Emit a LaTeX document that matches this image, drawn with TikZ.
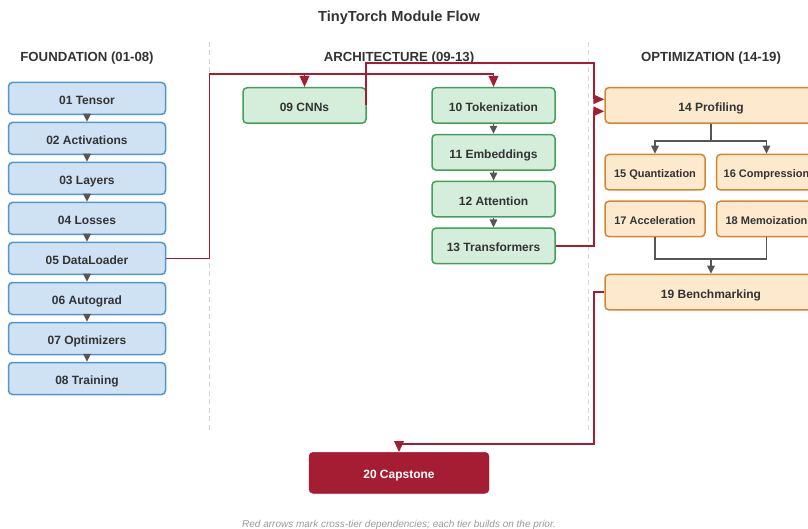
\documentclass[tikz,border=0pt]{standalone}
\usepackage{fontspec}
\setmainfont{Liberation Sans}
\usetikzlibrary{arrows.meta}

\definecolor{ink}{HTML}{333333}
\definecolor{note}{HTML}{9A9A9A}
\definecolor{sepgrey}{HTML}{D6D6D6}
\definecolor{flowgrey}{HTML}{555555}
\definecolor{crossred}{HTML}{A51D33}
\definecolor{fndfill}{HTML}{CFE2F3}
\definecolor{fnddraw}{HTML}{5296CE}
\definecolor{archfill}{HTML}{D5EDDB}
\definecolor{archdraw}{HTML}{43A05A}
\definecolor{optfill}{HTML}{FDE9CD}
\definecolor{optdraw}{HTML}{D6862F}

\tikzset{
  modbox/.style={rounded corners=4pt, line width=1.5pt, text=ink,
    font=\bfseries\fontsize{12}{14}\selectfont, inner sep=0pt, align=center,
    text height=12pt, text depth=0pt},
  fndbox/.style={modbox, fill=fndfill, draw=fnddraw, minimum width=157pt, minimum height=32pt},
  archbox/.style={modbox, fill=archfill, draw=archdraw, minimum width=123pt, minimum height=35.5pt},
  optbox/.style={modbox, fill=optfill, draw=optdraw, minimum height=35.5pt},
  optwide/.style={optbox, minimum width=212pt},
  optsmall/.style={optbox, minimum width=100pt, font=\bfseries\fontsize{11}{13}\selectfont,
    text height=11.4pt},
  capbox/.style={rounded corners=4pt, fill=crossred, draw=crossred, text=white,
    font=\bfseries\fontsize{12}{14}\selectfont, minimum width=180pt, minimum height=41pt,
    inner sep=0pt, text height=12pt, text depth=0pt},
  tierhead/.style={text=ink, font=\bfseries\fontsize{13.2}{15}\selectfont},
  flow/.style={draw=flowgrey, line width=1.4pt, -{Triangle[length=8pt,width=7.5pt]}},
  flowplain/.style={draw=flowgrey, line width=1.4pt},
  cross/.style={draw=crossred, line width=1.8pt, -{Triangle[length=11pt,width=9.5pt]}},
  tiersep/.style={draw=sepgrey, line width=1pt, dash pattern=on 5pt off 3.5pt},
}

\begin{document}
\begin{tikzpicture}[x=1pt, y=-1pt]
\useasboundingbox (0,0) rectangle (808,529);
\clip (0,0) rectangle (808,529);
\fill[white] (0,0) rectangle (808,529);

% tier separators
\draw[tiersep] (209.5,42) -- (209.5,430);
\draw[tiersep] (588.5,42) -- (588.5,430);

% title and tier headings
\node[text=ink, font=\bfseries\fontsize{14.6}{17}\selectfont] (title) at (399,17.8) {TinyTorch Module Flow};
\node[tierhead] (hfnd) at (87,57.8) {FOUNDATION (01-08)};
\node[tierhead] (harch) at (399,57.8) {ARCHITECTURE (09-13)};
\node[tierhead] (hopt) at (711,57.8) {OPTIMIZATION (14-19)};

% foundation tier
\node[fndbox] (n01) at (87,98.5) {01 Tensor};
\node[fndbox] (n02) at (87,138.5) {02 Activations};
\node[fndbox] (n03) at (87,178.5) {03 Layers};
\node[fndbox] (n04) at (87,218.5) {04 Losses};
\node[fndbox] (n05) at (87,258.5) {05 DataLoader};
\node[fndbox] (n06) at (87,298.5) {06 Autograd};
\node[fndbox] (n07) at (87,338.5) {07 Optimizers};
\node[fndbox] (n08) at (87,378.5) {08 Training};
\foreach \a/\b in {01/02,02/03,03/04,04/05,05/06,06/07,07/08}
  \draw[flow] (n\a.south) -- (n\b.north);

% architecture tier
\node[archbox] (n09) at (304.5,105.5) {09 CNNs};
\node[archbox] (n10) at (493.5,105.5) {10 Tokenization};
\node[archbox] (n11) at (493.5,152.3) {11 Embeddings};
\node[archbox] (n12) at (493.5,199.1) {12 Attention};
\node[archbox] (n13) at (493.5,245.9) {13 Transformers};
\foreach \a/\b in {10/11,11/12,12/13}
  \draw[flow] (n\a.south) -- (n\b.north);

% optimization tier
\node[optwide] (n14) at (711,105.3) {14 Profiling};
\node[optsmall] (n15) at (655,172.2) {15 Quantization};
\node[optsmall] (n16) at (766.5,172.2) {16 Compression};
\node[optsmall] (n17) at (655,218.9) {17 Acceleration};
\node[optsmall] (n18) at (766.5,218.9) {18 Memoization};
\node[optwide] (n19) at (711,292.2) {19 Benchmarking};

\coordinate (split) at (711,141);
\draw[flowplain] (n14.south) -- (split);
\draw[flow] (split) -| (n15.north);
\draw[flow] (split) -| (n16.north);
\coordinate (merge) at (711,259);
\draw[flowplain] (n17.south) |- (merge);
\draw[flowplain] (n18.south) |- (merge);
\draw[flow] (merge) -- (n19.north);

% capstone
\node[capbox] (n20) at (399,472.8) {20 Capstone};

% cross-tier dependencies
\coordinate (busA) at (209.5,74);
\coordinate (busB) at (594,63);
\coordinate (busD) at (594,444);
\draw[cross] (n05.east) -| (busA) -| (n10.north);
\draw[cross] (busA) -| (n09.north);
\draw[cross] ([xshift=-0.9pt]n09.east) |- (busB) |- ([yshift=6pt]n14.west);
\draw[cross] (n13.east) -- (n13.east -| busB) |- ([yshift=-6pt]n14.west);
\draw[cross] (n19.west) -| (busD) -| (n20.north);

% footnote
\node[text=note, font=\itshape\fontsize{10}{12}\selectfont] (footnote) at (399,524.5)
  {Red arrows mark cross-tier dependencies; each tier builds on the prior.};
\end{tikzpicture}
\end{document}
